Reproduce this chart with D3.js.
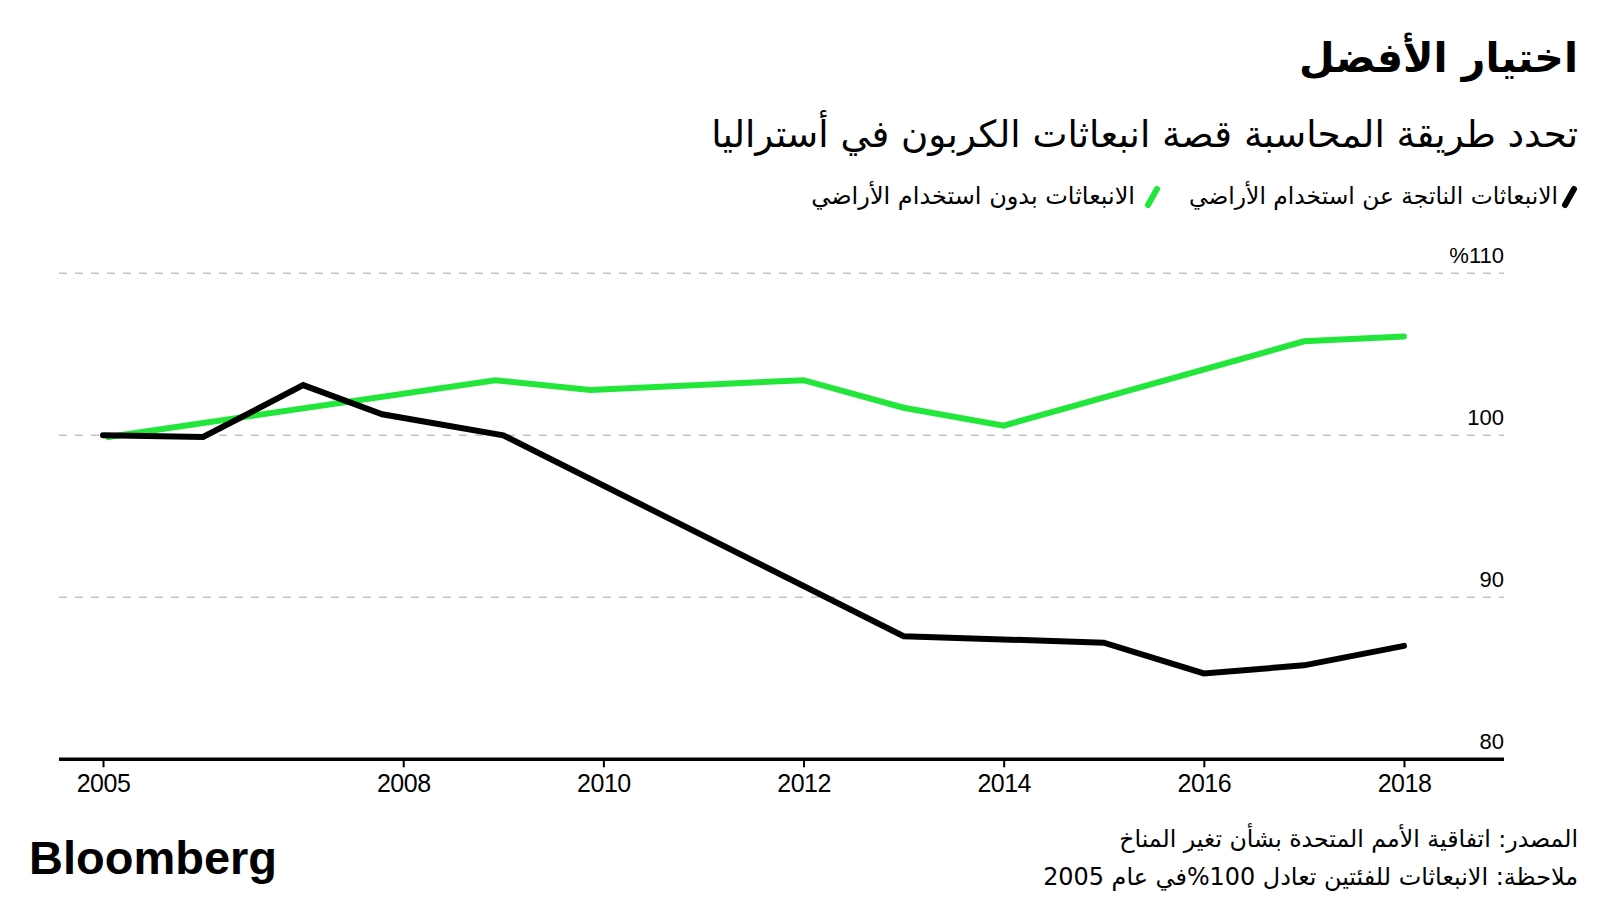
<!DOCTYPE html>
<html>
<head>
<meta charset="utf-8">
<script src="https://cdn.jsdelivr.net/npm/d3@7"></script>
<style>
  html, body { margin: 0; padding: 0; background: #fff; }
  svg { display: block; }
</style>
</head>
<body>
<svg id="chart" width="1600" height="900"></svg>
<script>
// ---------------- DATA ----------------
const titleText = "اختيار الأفضل";
const subtitleText = "تحدد طريقة المحاسبة قصة انبعاثات الكربون في أستراليا";
const seriesNames = ["الانبعاثات الناتجة عن استخدام الأراضي", "الانبعاثات بدون استخدام الأراضي"];
const seriesColors = ["#000000", "#22e63a"];

const blackYears = [2005, 2006, 2007, 2007.79, 2009, 2013, 2015, 2016, 2017, 2018];
const blackValues = [100.0, 99.9, 103.1, 101.3, 100.0, 87.6, 87.2, 85.3, 85.8, 87.0];

const greenYears = [2005.05, 2008.92, 2009.87, 2012, 2013, 2014, 2017, 2018];
const greenValues = [99.9, 103.4, 102.8, 103.4, 101.7, 100.6, 105.8, 106.1];

const xTickValues = [2005, 2008, 2010, 2012, 2014, 2016, 2018];
const yTickValues = [80, 90, 100, 110];
const yTickLabels = ["80", "90", "100", "%110"];

const sourceText = "المصدر: اتفاقية الأمم المتحدة بشأن تغير المناخ";
const noteText = "ملاحظة: الانبعاثات للفئتين تعادل 100%في عام 2005";
const brandText = "Bloomberg";

// ---------------- LAYOUT ----------------
const svg = d3.select("#chart");
const AR = "'DejaVu Sans', sans-serif";
const NUM = "'Liberation Sans', Arial, sans-serif";
const RIGHT = 1578;
const plotLeft = 59, plotRight = 1504;

const x = d3.scaleLinear().domain([2005, 2018]).range([103, 1404]);
const y = d3.scaleLinear().domain([80, 110]).range([759.3, 273.3]);

// helper: right-align RTL text and fit width
function rtlText(str, xRight, yBase, size, weight, targetWidth, color) {
  const t = svg.append("text")
    .attr("x", xRight).attr("y", yBase)
    .attr("direction", "rtl")
    .style("direction", "rtl")
    .attr("text-anchor", "start")
    .style("font-family", AR)
    .style("font-size", size + "px")
    .style("font-weight", weight)
    .attr("fill", color || "#000")
    .text(str);
  if (targetWidth) {
    const w = t.node().getComputedTextLength();
    if (w > 0) {
      const ns = size * targetWidth / w;
      t.style("font-size", ns + "px");
    }
  }
  const bb = t.node().getBBox();
  const dx = xRight - (bb.x + bb.width);
  t.attr("x", xRight + dx);
  return t;
}

// Title, subtitle
rtlText(titleText, RIGHT, 72, 46, "bold", 279);
rtlText(subtitleText, RIGHT, 147, 30, "normal", 867);

// Legend
const legendItems = [
  {name: seriesNames[0], color: seriesColors[0], sw: [1565, 1574], textRight: 1558, width: 369},
  {name: seriesNames[1], color: seriesColors[1], sw: [1148, 1157], textRight: 1135, width: 324}
];
legendItems.forEach(d => {
  svg.append("line")
    .attr("x1", d.sw[0]).attr("y1", 205)
    .attr("x2", d.sw[1]).attr("y2", 189)
    .attr("stroke", d.color).attr("stroke-width", 6)
    .attr("stroke-linecap", "round");
  rtlText(d.name, d.textRight, 204, 22, "normal", d.width);
});

// Gridlines
svg.append("g").selectAll("line")
  .data(yTickValues.filter(v => v !== 80))
  .join("line")
  .attr("x1", plotLeft).attr("x2", plotRight)
  .attr("y1", d => y(d)).attr("y2", d => y(d))
  .attr("stroke", "#c4c4c4")
  .attr("stroke-width", 1.5)
  .attr("stroke-dasharray", "8,8");

// Y labels
svg.append("g").selectAll("text")
  .data(yTickValues)
  .join("text")
  .attr("x", plotRight)
  .attr("y", d => y(d) - 10)
  .attr("text-anchor", "end")
  .style("font-family", NUM)
  .style("font-size", "22px")
  .attr("fill", "#000")
  .text((d, i) => yTickLabels[i]);

// Lines
const line = d3.line().x(d => x(d[0])).y(d => y(d[1]));
const greenData = greenYears.map((yr, i) => [yr, greenValues[i]]);
const blackData = blackYears.map((yr, i) => [yr, blackValues[i]]);

svg.append("path")
  .datum(greenData)
  .attr("d", line)
  .attr("fill", "none")
  .attr("stroke", seriesColors[1])
  .attr("stroke-width", 6)
  .attr("stroke-linejoin", "miter")
  .attr("stroke-linecap", "round");

svg.append("path")
  .datum(blackData)
  .attr("d", line)
  .attr("fill", "none")
  .attr("stroke", seriesColors[0])
  .attr("stroke-width", 6)
  .attr("stroke-linejoin", "miter")
  .attr("stroke-linecap", "round");

// X axis baseline
svg.append("line")
  .attr("x1", plotLeft).attr("x2", plotRight)
  .attr("y1", y(80)).attr("y2", y(80))
  .attr("stroke", "#000").attr("stroke-width", 3.5);

const xAxis = svg.append("g")
  .attr("transform", `translate(0,${y(80)})`)
  .call(d3.axisBottom(x).tickValues(xTickValues).tickFormat(d3.format("d")).tickSize(8).tickSizeOuter(0));
xAxis.select(".domain").remove();
xAxis.selectAll(".tick line").attr("stroke", "#000").attr("stroke-width", 2);
xAxis.selectAll(".tick text")
  .attr("y", 15)
  .attr("dy", "0.71em")
  .style("font-family", NUM)
  .style("font-size", "25px")
  .style("letter-spacing", "-0.5px")
  .attr("fill", "#000");

// Footer
rtlText(sourceText, RIGHT, 847, 22, "normal", 459);
rtlText(noteText, RIGHT, 885, 22, "normal", 535);

svg.append("text")
  .attr("x", 29).attr("y", 874)
  .style("font-family", NUM)
  .style("font-size", "46px")
  .style("font-weight", "bold")
  .attr("textLength", 248)
  .attr("lengthAdjust", "spacingAndGlyphs")
  .attr("fill", "#000")
  .text(brandText);
</script>
</body>
</html>
